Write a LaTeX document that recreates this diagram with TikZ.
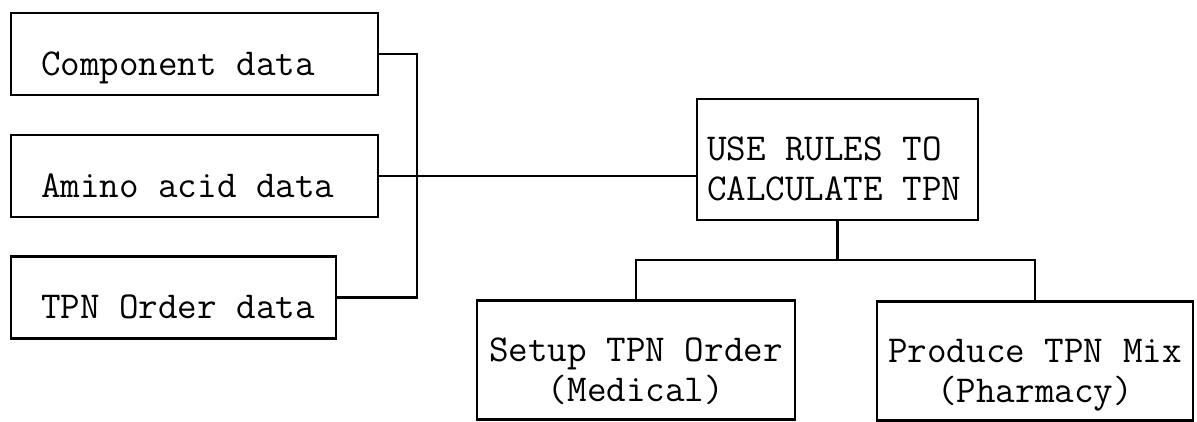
\documentclass[tikz,border=0pt]{standalone}
\usepackage{fontspec}

\tikzset{
  box/.style={draw, line width=2.4pt, inner ysep=0pt,
    font=\ttfamily\fontsize{38}{40}\selectfont},
  databox/.style={box, inner xsep=0pt, text width=#1, align=flush left,
    text height=62pt, text depth=20pt,
    execute at begin node={\hspace*{30pt}}},
  taskbox/.style={box, inner xsep=0pt, text width=#1, align=flush center,
    text height=61pt, text depth=58pt},
  wire/.style={line width=2.4pt}
}

\begin{document}
\begin{tikzpicture}[x=1pt, y=-1pt]
        \useasboundingbox (0,0) rectangle (1197,421);

        % input data
        \node[databox=367pt] (comp) at (194.5,54) {Component data};
        \node[databox=367pt] (amino) at (194.5,176) {Amino acid data};
        \node[databox=325pt] (order) at (173.5,297.5) {TPN Order data};

        % rules and outputs
        \node[box, inner xsep=10pt, text width=261pt, align=flush left,
              text height=61pt, text depth=60pt] (rules) at (837.5,159.5)
              {USE RULES TO\\CALCULATE TPN};
        \node[taskbox=318pt] (setup) at (636,360) {Setup TPN Order\\(Medical)};
        \node[taskbox=316pt] (mix) at (1035,361) {Produce TPN Mix\\(Pharmacy)};

        \coordinate (bus) at (417,0);
        \coordinate (fork) at (837.5,260);

        \draw[wire] (comp.east) -- (comp.east -| bus) -- (order.east -| bus) -- (order.east);
        \draw[wire] (amino.east) -- (amino.east -| rules.west);
        \draw[wire] (rules.south) -- (fork);
        \draw[wire] (setup.north) |- (fork) -| (mix.north);
    \end{tikzpicture}
\end{document}
